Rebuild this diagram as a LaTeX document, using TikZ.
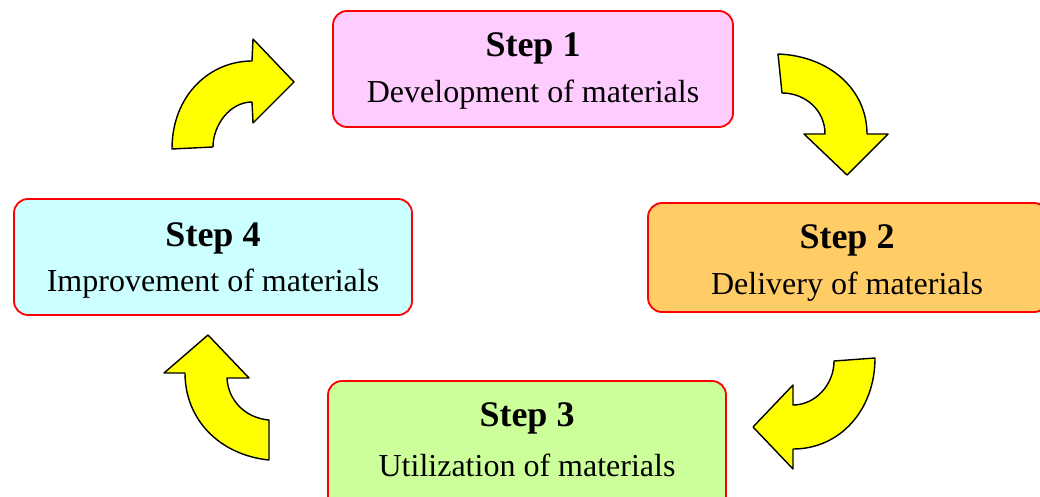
\documentclass[tikz,border=0pt]{standalone}
\usepackage{fontspec}
\setmainfont{Liberation Serif}
\begin{document}
\begin{tikzpicture}[x=1pt,y=-1pt,
  stepbox/.style={draw=red,line width=1.8pt,rounded corners=14pt},
  bigarrow/.style={draw=black,fill={rgb,255:red,255;green,255;blue,0},line width=1.4pt,line join=round},
  ttl/.style={font=\fontsize{36}{40}\selectfont\bfseries,inner sep=0pt},
  sub/.style={font=\fontsize{32}{36}\selectfont,inner sep=0pt}]
\useasboundingbox (0,0) rectangle (1040,497);
% boxes
\filldraw[stepbox,fill={rgb,255:red,255;green,204;blue,255}] (333,11) rectangle (733,127);
\filldraw[stepbox,fill={rgb,255:red,255;green,204;blue,102}] (648,203) rectangle (1048,312);
\filldraw[stepbox,fill={rgb,255:red,204;green,255;blue,153}] (328,381) rectangle (726,510);
\filldraw[stepbox,fill={rgb,255:red,204;green,255;blue,255}] (14,199) rectangle (412,315);
% texts
\node[ttl] (t1) at (533,48) {Step 1};
\node[sub] (s1) at (533,95) {Development of materials};
\node[ttl] (t2) at (847,240) {Step 2};
\node[sub] (s2) at (847,287) {Delivery of materials};
\node[ttl] (t3) at (527,418) {Step 3};
\node[sub] (s3) at (527,465) {Utilization of materials};
\node[ttl] (t4) at (213,238) {Step 4};
\node[sub] (s4) at (213,284) {Improvement of materials};
% arrows
\draw[bigarrow] (172,149) .. controls (172,95) and (210,61) .. (252,61) -- (253,39) -- (294,82) -- (253,123) -- (252,102) .. controls (230,102) and (213,125) .. (213,147) -- cycle;
\draw[bigarrow] (778,54) .. controls (830,56) and (867,90) .. (867,134) -- (888,134) -- (847,175) -- (804,134) -- (825,134) .. controls (825,110) and (805,93) .. (782,93) -- cycle;
\draw[bigarrow] (875,358) .. controls (875,410) and (840,449) .. (793,449) -- (793,469) -- (753,427) -- (793,385) -- (793,405) .. controls (815,405) and (834,385) .. (834,361) -- cycle;
\draw[bigarrow] (269,460) .. controls (220,455) and (185,420) .. (185,373) -- (164,373) -- (208,335) -- (249,378) -- (227,378) .. controls (228,400) and (245,418) .. (269,420) -- cycle;
\end{tikzpicture}
\end{document}
